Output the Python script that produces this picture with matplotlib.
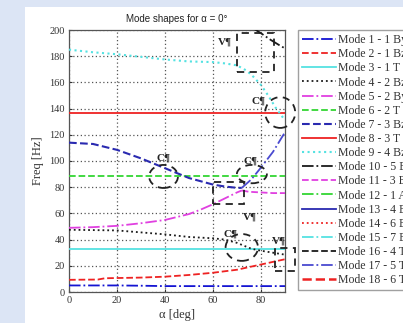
import matplotlib
matplotlib.use('Agg')
import matplotlib.pyplot as plt
from matplotlib.patches import Ellipse, Rectangle
from matplotlib.lines import Line2D

# ---------------- data ----------------
alpha_const = [0, 90]
mode1_alpha = [0, 10, 20, 30, 40, 50, 60, 70, 80, 90]
mode1_freq = [5, 5, 5, 4.8, 4.5, 4.5, 4.5, 4.5, 4.5, 4.5]
mode2_alpha = [0, 12, 15, 30, 40, 50, 60, 70, 80, 90]
mode2_freq = [9.3, 9.5, 10.5, 11, 11.7, 13, 14.7, 17, 21, 25]
mode3_freq = [33, 33]
mode4_alpha = [0, 20, 30, 40, 50, 60, 65, 70, 76, 80, 85, 90]
mode4_freq = [47.5, 47, 45.5, 44, 42, 41, 40, 37.5, 33, 31.5, 30, 28.5]
mode5_alpha = [0, 10, 20, 30, 40, 50, 55, 60, 65, 70, 72]
mode5_freq = [49, 49.5, 50.5, 52.5, 55, 59.5, 63, 67, 71.5, 76, 77.5]
mode6_freq = [88.5, 88.5]
mode7_alpha = [0, 10, 20, 30, 40, 50, 60, 65, 70, 72]
mode7_freq = [114, 113, 108.5, 102, 94.5, 87, 82, 80.5, 79.5, 79.5]
mode8_freq = [137, 137]
mode9_alpha = [0, 10, 20, 30, 40, 50, 60, 65, 70, 74, 77, 80, 83, 86, 88, 90]
mode9_freq = [185, 183, 181.5, 179.5, 177.5, 176, 175.5, 174.5, 173, 169, 164, 158, 150, 141, 136, 131]
mode10_alpha = [77, 80, 84, 88, 90]
mode10_freq = [201, 197.5, 192.5, 188, 186]
mode11_alpha = [72, 75, 80, 85, 90]
mode11_freq = [77.5, 76.5, 76, 75.5, 75.5]
mode17_alpha = [72, 76, 80, 85, 90]
mode17_freq = [79.5, 86, 95, 107, 122]

legend_labels = ['Mode 1 - 1 By', 'Mode 2 - 1 Bz', 'Mode 3 - 1 T', 'Mode 4 - 2 Bz',
                 'Mode 5 - 2 By', 'Mode 6 - 2 T', 'Mode 7 - 3 Bz', 'Mode 8 - 3 T',
                 'Mode 9 - 4 Bz', 'Mode 10 - 5 Bz', 'Mode 11 - 3 By', 'Mode 12 - 1 A',
                 'Mode 13 - 4 By', 'Mode 14 - 6 Bz', 'Mode 15 - 7 Bz', 'Mode 16 - 4 T',
                 'Mode 17 - 5 T', 'Mode 18 - 6 T']
x_ticks = [0, 20, 40, 60, 80]
y_ticks = [0, 20, 40, 60, 80, 100, 120, 140, 160, 180, 200]

# ---------------- styles ----------------
SERIF = 'Liberation Serif'
BLUE = '#1414d2'
NAVY = '#2a2ab0'
SLATE = '#4a4ad0'
RED = '#ee2222'
CYAN = '#55e2e2'
GREEN = '#33d633'
MAG = '#e040e0'
BLK = '#1a1a1a'

W, H = 403, 323
fig = plt.figure(figsize=(W / 100, H / 100), dpi=100, facecolor='#dce5f5')
fig.patches.append(Rectangle((25 / W, 0), 1, 1 - 7 / H, transform=fig.transFigure,
                             facecolor='white', edgecolor='none', zorder=-5))

ax = fig.add_axes([69 / W, 1 - 292 / H, (285 - 69) / W, (292 - 30) / H])
ax.set_xlim(0, 90)
ax.set_ylim(0, 200)

lw = 1.3
styles = {
    1: dict(color=BLUE, ls='-.', lw=lw),
    2: dict(color=RED, ls='--', lw=lw),
    3: dict(color=CYAN, ls='-', lw=lw),
    4: dict(color=BLK, ls=':', lw=lw),
    5: dict(color=MAG, ls='-.', lw=lw),
    6: dict(color=GREEN, ls='--', lw=lw),
    7: dict(color=NAVY, ls='--', lw=1.5),
    8: dict(color=RED, ls='-', lw=lw),
    9: dict(color=CYAN, ls=':', lw=1.5),
    10: dict(color=BLK, ls='-.', lw=lw),
    11: dict(color=MAG, ls='--', lw=lw),
    12: dict(color=GREEN, ls='-.', lw=lw),
    13: dict(color=NAVY, ls='-', lw=lw),
    14: dict(color=RED, ls=':', lw=lw),
    15: dict(color=CYAN, ls='-.', lw=lw),
    16: dict(color=BLK, ls='--', lw=lw),
    17: dict(color=SLATE, ls='-.', lw=lw),
    18: dict(color=RED, ls='--', lw=1.8),
}

series = {
    1: (mode1_alpha, mode1_freq),
    2: (mode2_alpha, mode2_freq),
    3: (alpha_const, mode3_freq),
    4: (mode4_alpha, mode4_freq),
    5: (mode5_alpha, mode5_freq),
    6: (alpha_const, mode6_freq),
    7: (mode7_alpha, mode7_freq),
    8: (alpha_const, mode8_freq),
    9: (mode9_alpha, mode9_freq),
    10: (mode10_alpha, mode10_freq),
    11: (mode11_alpha, mode11_freq),
    17: (mode17_alpha, mode17_freq),
}

handles = []
for k in range(1, 19):
    st = styles[k]
    if k in series:
        xs, ys = series[k]
        h, = ax.plot(xs, ys, color=st['color'], linestyle=st['ls'], linewidth=st['lw'], zorder=3)
    else:
        h = Line2D([], [], color=st['color'], linestyle=st['ls'], linewidth=st['lw'])
    handles.append(h)

ax.set_xticks(x_ticks)
ax.set_yticks(y_ticks)
ax.grid(True, color='#555555', linestyle=(0, (1, 2)), linewidth=0.9)
ax.tick_params(direction='in', length=2, labelsize=7.5, colors='#333333', pad=3)
for lab in ax.get_xticklabels() + ax.get_yticklabels():
    lab.set_family(SERIF)
for sp in ax.spines.values():
    sp.set_color('#555555')
    sp.set_linewidth(0.9)

ax.set_title('Mode shapes for \u03b1 = 0\u00b0', fontsize=7, family='Liberation Sans',
             color='#222222', pad=6)
ax.set_xlabel('\u03b1 [deg]', fontsize=9, family=SERIF, color='#333333', labelpad=3)
ax.set_ylabel('Freq [Hz]', fontsize=9, family=SERIF, color='#333333', labelpad=4)

# ---------------- annotations (crossings / veerings) ----------------
ann = dict(fill=False, edgecolor='#222222', linestyle=(0, (4, 3)), linewidth=1.3,
           clip_on=False, zorder=4)
ax.add_patch(Rectangle((70, 168), 15.5, 29.5, **ann))
ax.add_patch(Ellipse((88, 137), 12.5, 23.5, **ann))
ax.add_patch(Ellipse((39.4, 88.2), 12, 17.6, **ann))
ax.add_patch(Ellipse((76.2, 90), 12.5, 14, **ann))
ax.add_patch(Rectangle((60, 67), 13, 17, **ann))
ax.add_patch(Ellipse((72, 34), 13.5, 20.5, **ann))
ax.add_patch(Rectangle((85.8, 16), 8.4, 17.6, **ann))

lab_kw = dict(fontsize=8, family=SERIF, weight='bold', color='#222222', ha='center',
              va='center', zorder=5, clip_on=False)
ax.text(65, 191, 'V\u00b6', **lab_kw)
ax.text(79, 146, 'C\u00b6', **lab_kw)
ax.text(39.5, 102, 'C\u00b6', **lab_kw)
ax.text(75.5, 100, 'C\u00b6', **lab_kw)
ax.text(75.5, 57, 'V\u00b6', **lab_kw)
ax.text(67.5, 44, 'C\u00b6', **lab_kw)
ax.text(87.5, 39, 'V\u00b6', **lab_kw)

# ---------------- legend ----------------
leg = fig.legend(handles, legend_labels, loc='upper left',
                 bbox_to_anchor=(298 / W, 1 - 30 / H), bbox_transform=fig.transFigure,
                 prop={'family': SERIF, 'size': 8.5}, frameon=True, fancybox=False,
                 edgecolor='#888888', handlelength=2.9, handletextpad=0.1,
                 labelspacing=0.18, borderpad=0.35, borderaxespad=0)
leg.get_frame().set_linewidth(1.0)
for t in leg.get_texts():
    t.set_color('#333333')

fig.savefig('out.png', dpi=100, facecolor=fig.get_facecolor())
